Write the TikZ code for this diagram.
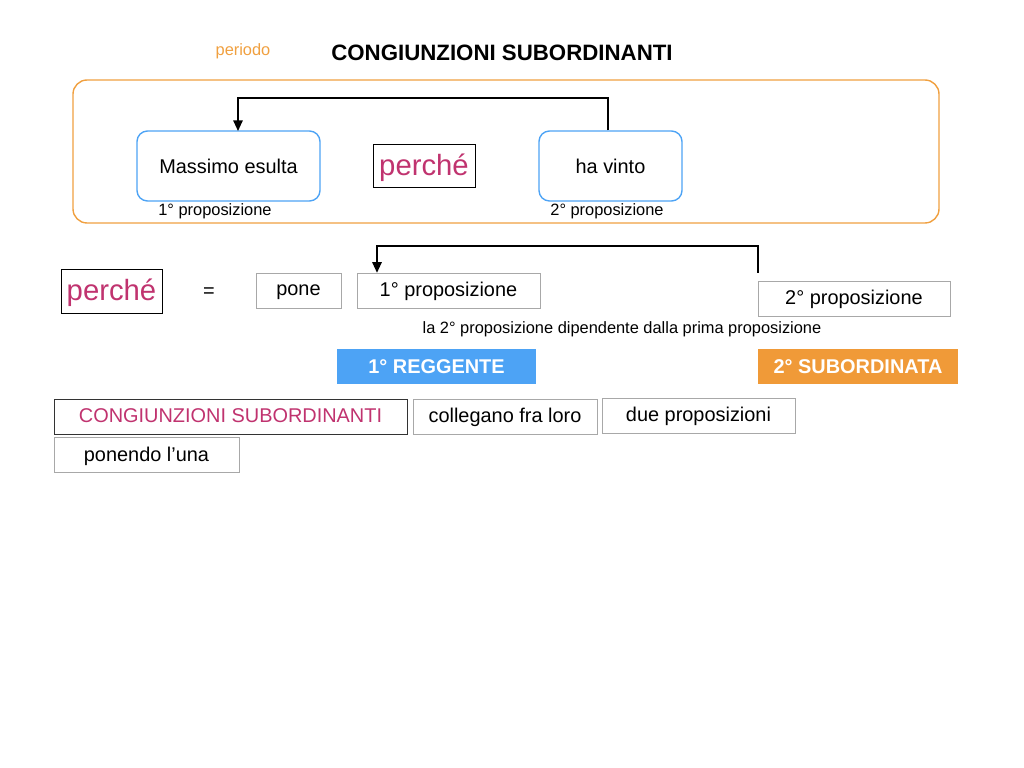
\documentclass[tikz,border=0pt]{standalone}
\usepackage{fontspec}
\setmainfont{Liberation Sans}
\usetikzlibrary{arrows.meta}
\definecolor{orangeline}{HTML}{F0A040}
\definecolor{blueline}{HTML}{4DA3F5}
\definecolor{magenta}{HTML}{C0336F}
\definecolor{greybox}{HTML}{A8A8A8}
\definecolor{fillorange}{HTML}{F09A38}
\tikzset{
  pbox/.style={draw=greybox,minimum height=35*0.03cm,inner sep=0pt,text depth=0.25ex,font=\fontsize{17}{20}\selectfont},
  bubble/.style={draw=blueline,line width=1.2pt,rounded corners=9pt,minimum height=70*0.03cm,inner sep=0pt,font=\fontsize{17}{20}\selectfont},
  small/.style={font=\fontsize{14}{16}\selectfont},
  tag/.style={minimum height=35*0.03cm,inner sep=0pt,text=white,font=\bfseries\fontsize{17}{20}\selectfont},
  bigword/.style={draw,inner sep=0pt,text=magenta,text depth=0.3ex,font=\fontsize{25}{28}\selectfont},
}
\begin{document}
\begin{tikzpicture}[x=0.03cm,y=-0.03cm]
      \useasboundingbox (0,0) rectangle (1024,768);
      \node[text=orangeline,font=\fontsize{14}{16}\selectfont] (periodo) at (243,51) {periodo};
      \node[font=\bfseries\fontsize{19}{22}\selectfont] (titolo) at (502,53) {CONGIUNZIONI SUBORDINANTI};
      \draw[orangeline,line width=1.2pt,rounded corners=12pt] (73,80) rectangle (939,223);
      % prima riga
      \node[bubble,minimum width=183*0.03cm] (massimo) at (228.5,166) {Massimo esulta};
      \node[bubble,minimum width=143*0.03cm] (vinto) at (610.5,166) {ha vinto};
      \node[bigword,minimum width=102*0.03cm,minimum height=43*0.03cm] (perche) at (424,166) {perché};
      \node[small] (prima) at (215,211) {1° proposizione};
      \node[small] (seconda) at (607,211) {2° proposizione};
      \coordinate (dest) at (238,131);
      \draw[line width=1.2pt,-{Triangle[length=9pt,width=8pt]}] (vinto.north -| 608,0) -- (608,98) -- (238,98) -- (dest);
      % seconda riga
      \node[bigword,minimum width=101*0.03cm,minimum height=44*0.03cm] (perche2) at (111.5,291) {perché};
      \node[font=\fontsize{17}{20}\selectfont] (uguale) at (209,293) {=};
      \node[pbox,minimum width=85*0.03cm] (pone) at (298.5,290.5) {pone};
      \node[pbox,minimum width=183*0.03cm] (prop1) at (448.5,290.5) {1° proposizione};
      \node[pbox,minimum width=192*0.03cm] (prop2) at (854,298.5) {2° proposizione};
      \draw[line width=1.2pt,-{Triangle[length=9pt,width=8pt]}] (758,273) -- (758,246) -- (377,246) -- (prop1.north -| 377,0);
      \node[small] (dipende) at (622,329) {la 2° proposizione dipendente dalla prima proposizione};
      \node[tag,fill=blueline,minimum width=199*0.03cm] (reggente) at (436.5,366.5) {1° REGGENTE};
      \node[tag,fill=fillorange,minimum width=200*0.03cm] (subord) at (858,366.5) {2° SUBORDINATA};
      % terza riga
      \node[pbox,draw=black!80,minimum width=353*0.03cm,text=magenta] (congiunz) at (230.5,416.5) {CONGIUNZIONI SUBORDINANTI};
      \node[pbox,minimum width=184*0.03cm] (collegano) at (505,416.5) {collegano fra loro};
      \node[pbox,minimum width=193*0.03cm] (due) at (698.5,415.5) {due proposizioni};
      \node[pbox,minimum width=185*0.03cm] (ponendo) at (146.5,455) {ponendo l’una};
\end{tikzpicture}
\end{document}
